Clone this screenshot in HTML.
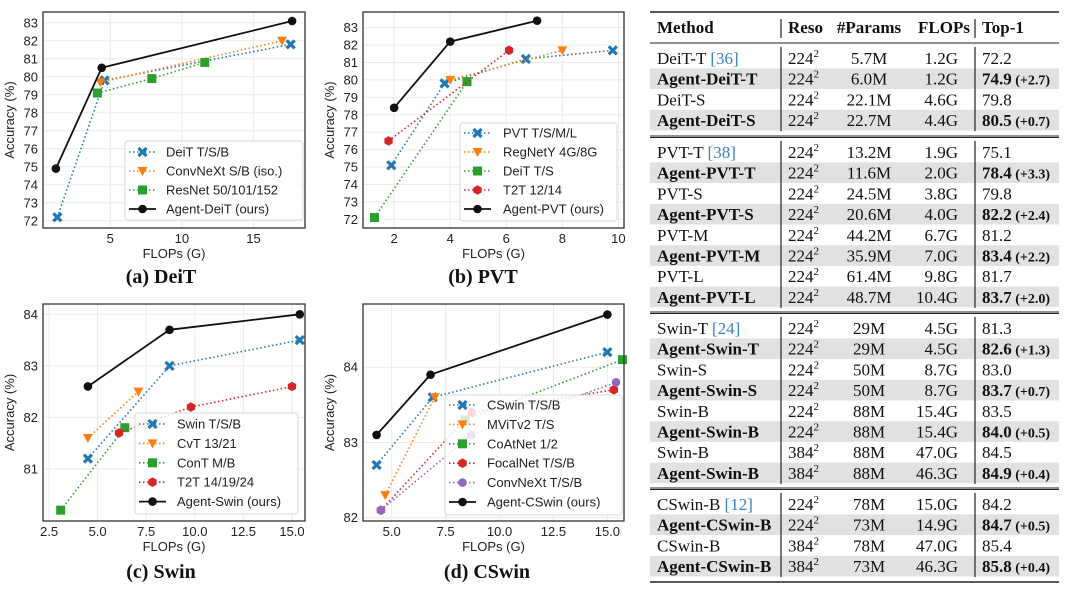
<!DOCTYPE html>
<html><head><meta charset="utf-8"><style>
html,body{margin:0;padding:0;background:#fff;}
svg text{font-family:"Liberation Sans",sans-serif;}
.tb{font-family:"Liberation Serif",serif;font-size:17px;fill:#111;}
.b{font-weight:bold;}
</style></head><body>
<svg id="fig" width="1080" height="593" viewBox="0 0 1080 593" xmlns="http://www.w3.org/2000/svg">
<g id="charts"></g>
<g id="table"></g>
</svg>
<script>
// ---------- data ----------
const aDeitX=[1.3,4.6,17.6], aDeitY=[72.2,79.8,81.8];
const aConvX=[4.3,17.0], aConvY=[79.7,82.0];
const aResX=[4.1,7.9,11.6], aResY=[79.1,79.9,80.8];
const aAgentX=[1.2,4.4,17.7], aAgentY=[74.9,80.5,83.1];
const aYTicks=[72,73,74,75,76,77,78,79,80,81,82,83], aXTicks=[5,10,15];

const bPvtX=[1.9,3.8,6.7,9.8], bPvtY=[75.1,79.8,81.2,81.7];
const bRegX=[4.0,8.0], bRegY=[80.0,81.7];
const bDeitX=[1.3,4.6], bDeitY=[72.1,79.9];
const bT2tX=[1.8,6.1], bT2tY=[76.5,81.7];
const bAgentX=[2.0,4.0,7.1], bAgentY=[78.4,82.2,83.4];
const bYTicks=[72,73,74,75,76,77,78,79,80,81,82,83], bXTicks=[2,4,6,8,10];

const cSwinX=[4.5,8.7,15.4], cSwinY=[81.2,83.0,83.5];
const cCvtX=[4.5,7.1], cCvtY=[81.6,82.5];
const cContX=[3.1,6.4], cContY=[80.2,81.8];
const cT2tX=[6.1,9.8,15.0], cT2tY=[81.7,82.2,82.6];
const cAgentX=[4.5,8.7,15.4], cAgentY=[82.6,83.7,84.0];
const cYTicks=[81,82,83,84], cXTicks=[2.5,5.0,7.5,10.0,12.5,15.0];

const dCswinX=[4.3,6.9,15.0], dCswinY=[82.7,83.6,84.2];
const dMvitX=[4.7,7.0], dMvitY=[82.3,83.6];
const dCoatX=[8.4,15.7], dCoatY=[83.3,84.1];
const dFocalX=[4.5,8.7,15.3], dFocalY=[82.1,83.4,83.7];
const dConvX=[4.5,8.7,15.4], dConvY=[82.1,83.1,83.8];
const dAgentX=[4.3,6.8,15.0], dAgentY=[83.1,83.9,84.7];
const dYTicks=[82,83,84], dXTicks=[5.0,7.5,10.0,12.5,15.0];

const NS="http://www.w3.org/2000/svg";
function mk(tag,attrs,parent){const e=document.createElementNS(NS,tag);for(const k in attrs)e.setAttribute(k,attrs[k]);parent.appendChild(e);return e;}
const C={blue:"#1f77b4",orange:"#ff7f0e",green:"#2ca02c",red:"#d62728",purple:"#9467bd",black:"#111"};

function marker(g,type,x,y,col){
  let e;
  if(type==="x"){
    e=mk("path",{d:`M${x-4},${y-4}L${x+4},${y+4}M${x-4},${y+4}L${x+4},${y-4}`,stroke:col,"stroke-width":3.2,"stroke-linecap":"butt"},g);
  }else if(type==="v"){
    e=mk("polygon",{points:`${x-5},${y-4} ${x+5},${y-4} ${x},${y+5}`,fill:col},g);
  }else if(type==="s"){
    e=mk("rect",{x:x-4.5,y:y-4.5,width:9,height:9,fill:col},g);
  }else if(type==="h"){
    let p=[];for(let i=0;i<6;i++){const a=Math.PI/3*i+Math.PI/6;p.push((x+4.8*Math.cos(a)).toFixed(1)+","+(y+4.8*Math.sin(a)).toFixed(1));}
    e=mk("polygon",{points:p.join(" "),fill:col},g);
  }else{
    e=mk("circle",{cx:x,cy:y,r:4.3,fill:col},g);
  }
  return e;
}

function plot(cfg){
  const root=document.getElementById("charts");
  const g=mk("g",{},root);
  
  
  const L=cfg.box[0],R=cfg.box[1],T=cfg.box[2],B=cfg.box[3];
  const sx=v=>L+(v-cfg.xd[0])/(cfg.xd[1]-cfg.xd[0])*(R-L);
  const sy=v=>B-(v-cfg.yd[0])/(cfg.yd[1]-cfg.yd[0])*(B-T);
  // grid
  cfg.yt.forEach(t=>{
    const ln=mk("line",{x1:L,x2:R,y1:sy(t),y2:sy(t),stroke:"#ebebeb","stroke-width":1},g);
    
    
    const tx=mk("text",{x:L-5,y:sy(t)+4.5,"text-anchor":"end","font-size":13,fill:"#222"},g);
    tx.textContent=t;
    
    
  });
  cfg.xt.forEach(t=>{
    const ln=mk("line",{x1:sx(t),x2:sx(t),y1:T,y2:B,stroke:"#ebebeb","stroke-width":1},g);
    
    
    const tx=mk("text",{x:sx(t),y:B+15,"text-anchor":"middle","font-size":13,fill:"#222"},g);
    tx.textContent=cfg.xfmt?t.toFixed(1):t;
    
    
  });
  // series
  cfg.series.forEach(s=>{
    const sg=mk("g",{},g);
    
    
    const pts=s.x.map((v,i)=>sx(v).toFixed(1)+","+sy(s.y[i]).toFixed(1)).join(" ");
    const pl=mk("polyline",{points:pts,fill:"none",stroke:s.c,"stroke-width":s.solid?1.8:1.6,"stroke-dasharray":s.solid?"none":"1.5,2.5"},sg);
    
    
    s.x.forEach((v,i)=>{
      const m=marker(sg,s.m,sx(v),sy(s.y[i]),s.c);
      
      
    });
  });
  // frame
  const fr=mk("rect",{x:L,y:T,width:R-L,height:B-T,fill:"none",stroke:"#333","stroke-width":1.3},g);
  
  
  // legend
  const lg=mk("g",{},g);
  
  
  const lb=cfg.leg;
  mk("rect",{x:lb.x,y:lb.y,width:lb.w,height:lb.h,rx:3,fill:"rgba(255,255,255,0.82)",stroke:"#d8d8d8","stroke-width":1},lg);
  cfg.series.forEach((s,i)=>{
    const yy=lb.y0+i*lb.dy;
    const eg=mk("g",{},lg);
    
    
    mk("line",{x1:lb.lx,x2:lb.lx+27,y1:yy,y2:yy,stroke:s.c,"stroke-width":s.solid?1.8:1.6,"stroke-dasharray":s.solid?"none":"1.5,2.5"},eg);
    marker(eg,s.m,lb.lx+13.5,yy,s.c);
    const t=mk("text",{x:lb.tx,y:yy+4.5,"font-size":13,fill:"#222"},eg);
    t.textContent=s.label;
  });
  // axis labels
  const xl=mk("text",{x:(L+R)/2,y:B+30,"text-anchor":"middle","font-size":13,fill:"#222"},g);
  xl.textContent="FLOPs (G)";
  
  
  const yx=L-29, yc=(T+B)/2;
  const yl=mk("text",{x:yx,y:yc,"text-anchor":"middle","font-size":13,fill:"#222",transform:`rotate(-90 ${yx} ${yc})`},g);
  yl.textContent="Accuracy (%)";
  
  
  const tt=mk("text",{x:cfg.tx,y:cfg.ty,"text-anchor":"middle","font-size":20,"font-weight":"bold",fill:"#111",style:"font-family:'Liberation Serif',serif"},g);
  tt.textContent=cfg.title;
  
  
}

plot({name:"chart-deit",box:[43,305,12,228],xd:[0.3,18.6],yd:[71.6,83.6],yt:aYTicks,xt:aXTicks,
 title:"(a) DeiT",tx:161,ty:283,
 leg:{x:125,y:141,w:178,h:79,y0:152,dy:19,lx:129,tx:166},
 series:[{id:"deit-series",label:"DeiT T/S/B",x:aDeitX,y:aDeitY,c:C.blue,m:"x"},
 {id:"convnext-series",label:"ConvNeXt S/B (iso.)",x:aConvX,y:aConvY,c:C.orange,m:"v"},
 {id:"resnet-series",label:"ResNet 50/101/152",x:aResX,y:aResY,c:C.green,m:"s"},
 {id:"agent-deit-series",label:"Agent-DeiT (ours)",x:aAgentX,y:aAgentY,c:C.black,m:"o",solid:1}]});

plot({name:"chart-pvt",box:[363,624,12,228],xd:[0.89,10.2],yd:[71.5,83.9],yt:bYTicks,xt:bXTicks,
 title:"(b) PVT",tx:483,ty:283,
 leg:{x:460,y:123,w:157,h:98,y0:133,dy:19,lx:464,tx:503},
 series:[{id:"pvt-series",label:"PVT T/S/M/L",x:bPvtX,y:bPvtY,c:C.blue,m:"x"},
 {id:"regnety-series",label:"RegNetY 4G/8G",x:bRegX,y:bRegY,c:C.orange,m:"v"},
 {id:"deit-ts-series",label:"DeiT T/S",x:bDeitX,y:bDeitY,c:C.green,m:"s"},
 {id:"t2t-series",label:"T2T 12/14",x:bT2tX,y:bT2tY,c:C.red,m:"h"},
 {id:"agent-pvt-series",label:"Agent-PVT (ours)",x:bAgentX,y:bAgentY,c:C.black,m:"o",solid:1}]});

plot({name:"chart-swin",box:[43,305,304,521],xd:[2.19,15.67],yd:[79.99,84.2],yt:cYTicks,xt:cXTicks,xfmt:1,
 title:"(c) Swin",tx:161,ty:578,
 leg:{x:135,y:413,w:163,h:101,y0:424,dy:19.4,lx:139,tx:177},
 series:[{id:"swin-series",label:"Swin T/S/B",x:cSwinX,y:cSwinY,c:C.blue,m:"x"},
 {id:"cvt-series",label:"CvT 13/21",x:cCvtX,y:cCvtY,c:C.orange,m:"v"},
 {id:"cont-series",label:"ConT M/B",x:cContX,y:cContY,c:C.green,m:"s"},
 {id:"t2t-series",label:"T2T 14/19/24",x:cT2tX,y:cT2tY,c:C.red,m:"h"},
 {id:"agent-swin-series",label:"Agent-Swin (ours)",x:cAgentX,y:cAgentY,c:C.black,m:"o",solid:1}]});

plot({name:"chart-cswin",box:[363,624,304,521],xd:[3.67,15.77],yd:[81.956,84.84],yt:dYTicks,xt:dXTicks,xfmt:1,
 title:"(d) CSwin",tx:487,ty:578,
 leg:{x:445,y:395,w:177,h:120,y0:405,dy:19.4,lx:449,tx:487},
 series:[{id:"cswin-series",label:"CSwin T/S/B",x:dCswinX,y:dCswinY,c:C.blue,m:"x"},
 {id:"mvitv2-series",label:"MViTv2 T/S",x:dMvitX,y:dMvitY,c:C.orange,m:"v"},
 {id:"coatnet-series",label:"CoAtNet 1/2",x:dCoatX,y:dCoatY,c:C.green,m:"s"},
 {id:"focalnet-series",label:"FocalNet T/S/B",x:dFocalX,y:dFocalY,c:C.red,m:"h"},
 {id:"convnext-tsb-series",label:"ConvNeXt T/S/B",x:dConvX,y:dConvY,c:C.purple,m:"o"},
 {id:"agent-cswin-series",label:"Agent-CSwin (ours)",x:dAgentX,y:dAgentY,c:C.black,m:"o",solid:1}]});

// ---------- table ----------
const sections=[
 {y0:58,rows:[["DeiT-T","36","224","5.7M","1.2G","72.2",""],["Agent-DeiT-T","","224","6.0M","1.2G","74.9","(+2.7)"],["DeiT-S","","224","22.1M","4.6G","79.8",""],["Agent-DeiT-S","","224","22.7M","4.4G","80.5","(+0.7)"]]},
 {y0:152,rows:[["PVT-T","38","224","13.2M","1.9G","75.1",""],["Agent-PVT-T","","224","11.6M","2.0G","78.4","(+3.3)"],["PVT-S","","224","24.5M","3.8G","79.8",""],["Agent-PVT-S","","224","20.6M","4.0G","82.2","(+2.4)"],["PVT-M","","224","44.2M","6.7G","81.2",""],["Agent-PVT-M","","224","35.9M","7.0G","83.4","(+2.2)"],["PVT-L","","224","61.4M","9.8G","81.7",""],["Agent-PVT-L","","224","48.7M","10.4G","83.7","(+2.0)"]]},
 {y0:328,rows:[["Swin-T","24","224","29M","4.5G","81.3",""],["Agent-Swin-T","","224","29M","4.5G","82.6","(+1.3)"],["Swin-S","","224","50M","8.7G","83.0",""],["Agent-Swin-S","","224","50M","8.7G","83.7","(+0.7)"],["Swin-B","","224","88M","15.4G","83.5",""],["Agent-Swin-B","","224","88M","15.4G","84.0","(+0.5)"],["Swin-B","","384","88M","47.0G","84.5",""],["Agent-Swin-B","","384","88M","46.3G","84.9","(+0.4)"]]},
 {y0:504,rows:[["CSwin-B","12","224","78M","15.0G","84.2",""],["Agent-CSwin-B","","224","73M","14.9G","84.7","(+0.5)"],["CSwin-B","","384","78M","47.0G","85.4",""],["Agent-CSwin-B","","384","73M","46.3G","85.8","(+0.4)"]]}
];
const RH=20.7, TL=650, TR=1059, V1=781, V2=975;
const tg=document.getElementById("table");
function line(x1,y1,x2,y2,w,p){mk("line",{x1,y1,x2,y2,stroke:"#222","stroke-width":w},p);}
line(TL,12,TR,12,1.6,tg);
line(TL,43,TR,43,1,tg);
line(TL,136,TR,136,1,tg);line(TL,137.5,TR,137.5,1,tg);
line(TL,312,TR,312,1,tg);line(TL,313.5,TR,313.5,1,tg);
line(TL,488,TR,488,1,tg);line(TL,489.5,TR,489.5,1,tg);
line(TL,582,TR,582,1.6,tg);
function txt(x,y,s,cls,anchor,p){const t=mk("text",{x,y,"class":"tb "+(cls||""),"text-anchor":anchor||"start"},p);t.textContent=s;return t;}
const hd=mk("g",{},tg);


txt(657,33,"Method","b","start",hd);txt(788,33,"Reso","b","start",hd);txt(869,33,"#Params","b","middle",hd);txt(944,33,"FLOPs","b","middle",hd);txt(982,33,"Top-1","b","start",hd);
line(V1,19,V1,38,1.2,tg);line(V2,19,V2,38,1.2,tg);
sections.forEach(sec=>{
  const n=sec.rows.length;
  sec.rows.forEach((r,i)=>{
    const cy=sec.y0+i*RH;
    const rg=mk("g",{},tg);
    
    
    const bold=r[0].startsWith("Agent");
    if(bold) mk("rect",{x:TL,y:cy-10.3,width:TR-TL,height:RH,fill:"#e1e1e1"},rg);
    const base=cy+6;
    const m=txt(657,base,r[0],bold?"b":"","start",rg);
    if(r[1]){const ts=mk("tspan",{fill:"#3a7fc4"},m);ts.textContent=" ["+r[1]+"]";}
    const rs=txt(788,base,r[2],"","start",rg);
    const sup=mk("tspan",{"font-size":11,dy:-7},rs);sup.textContent="2";
    txt(869,base,r[3],"","middle",rg);
    txt(958,base,r[4],"","end",rg);
    const tp=txt(982,base,r[5],bold?"b":"","start",rg);
    if(r[6]){const d=mk("tspan",{"font-size":14,"font-weight":"bold"},tp);d.textContent=" "+r[6];}
  });
  line(V1,sec.y0-11,V1,sec.y0+(n-1)*RH+11,1.2,tg);
  line(V2,sec.y0-11,V2,sec.y0+(n-1)*RH+11,1.2,tg);
});
</script>
</body></html>
